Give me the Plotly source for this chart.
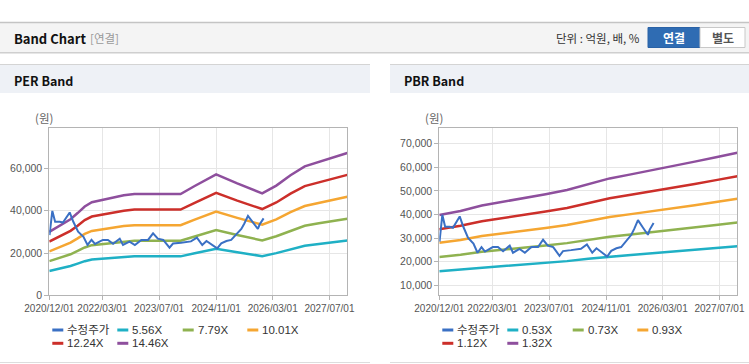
import plotly.graph_objects as go

W, H = 749, 364

# ---------------- data ----------------
x_tickvals = ["2020-12-01", "2022-03-01", "2023-07-01", "2024-11-01", "2026-03-01", "2027-07-01"]
x_ticktext = ["2020/12/01", "2022/03/01", "2023/07/01", "2024/11/01", "2026/03/01", "2027/07/01"]

price_dates = ["2020-12-03", "2020-12-27", "2021-01-20", "2021-03-01", "2021-03-28", "2021-05-25",
               "2021-06-25", "2021-08-05", "2021-09-20", "2021-10-25", "2021-11-28", "2021-12-28",
               "2022-03-05", "2022-04-18", "2022-06-01", "2022-07-28", "2022-08-25", "2022-10-20",
               "2022-12-05", "2023-01-30", "2023-03-28", "2023-05-10", "2023-06-20", "2023-08-05",
               "2023-09-28", "2023-10-28", "2024-01-05", "2024-03-30", "2024-05-20", "2024-07-05",
               "2024-08-10", "2024-09-20", "2024-11-10", "2024-12-15", "2025-01-28", "2025-03-10",
               "2025-04-22", "2025-06-05", "2025-07-01", "2025-08-01", "2025-09-12", "2025-10-25",
               "2025-11-10", "2025-12-13"]
price_values = [28500, 39900, 34800, 34800, 34400, 39200,
                34800, 30100, 27700, 23800, 26200, 24300,
                26200, 26200, 24400, 26800, 23800, 25400,
                23800, 26200, 26200, 29300, 26800, 26200,
                22500, 24500, 24900, 25500, 27300, 23800,
                25700, 24100, 22200, 24600, 25700, 26200,
                28800, 31400, 34000, 37600, 34500, 31400,
                33600, 36400]

per_band_dates = ["2020-12-01", "2021-02-01", "2021-04-01", "2021-06-01", "2021-08-01", "2021-10-01",
                  "2021-12-01", "2022-03-01", "2022-06-01", "2022-09-01", "2022-12-01", "2023-06-01",
                  "2024-01-01", "2024-05-01", "2024-11-01", "2025-05-01", "2025-12-01", "2026-04-01",
                  "2026-08-01", "2026-12-01", "2027-04-01", "2027-08-01", "2027-12-01"]
per_556 = [11540, 12300, 12960, 13840, 14960, 16150, 16920, 17340, 17800, 18190, 18420, 18420,
           18420, 19880, 22000, 20340, 18530, 19950, 21840, 23460, 24300, 25150, 25880]
per_779 = [16160, 17240, 18160, 19400, 20960, 22630, 23710, 24300, 24940, 25480, 25810, 25810,
           25810, 27850, 30820, 28500, 25960, 27960, 30600, 32870, 34050, 35230, 36250]
per_1001 = [20770, 22150, 23330, 24920, 26930, 29080, 30460, 31220, 32050, 32740, 33160, 33160,
            33160, 35790, 39600, 36620, 33360, 35930, 39320, 42230, 43750, 45280, 46590]
per_1224 = [25400, 27090, 28530, 30480, 32930, 35560, 37250, 38180, 39190, 40040, 40550, 40550,
            40550, 43760, 48420, 44770, 40800, 43930, 48080, 51640, 53500, 55360, 56970]
per_1446 = [30000, 32000, 33700, 36000, 38900, 42000, 44000, 45100, 46300, 47300, 47900, 47900,
            47900, 51700, 57200, 52900, 48200, 51900, 56800, 61000, 63200, 65400, 67300]

pbr_band_dates = ["2020-12-01", "2021-06-01", "2021-12-01", "2022-06-01", "2022-12-01", "2023-06-01",
                  "2023-12-01", "2024-06-01", "2024-12-01", "2025-06-01", "2025-12-01", "2026-06-01",
                  "2026-12-01", "2027-06-01", "2027-12-01"]
pbr_053 = [15980, 16660, 17590, 18190, 18790, 19510, 20240, 21280, 22200, 22890, 23570, 24370,
           25050, 25820, 26580]
pbr_073 = [22010, 22950, 24220, 25050, 25880, 26880, 27870, 29310, 30580, 31520, 32460, 33570,
           34510, 35560, 36610]
pbr_093 = [28040, 29240, 30860, 31920, 32970, 34240, 35510, 37340, 38960, 40160, 41360, 42760,
           43960, 45300, 46640]
pbr_112 = [33770, 35210, 37160, 38440, 39700, 41240, 42760, 44970, 46920, 48360, 49810, 51500,
           52940, 54560, 56170]
pbr_132 = [39800, 41500, 43800, 45300, 46800, 48600, 50400, 53000, 55300, 57000, 58700, 60700,
           62400, 64300, 66200]

per_names = ["수정주가", "5.56X", "7.79X", "10.01X", "12.24X", "14.46X"]
pbr_names = ["수정주가", "0.53X", "0.73X", "0.93X", "1.12X", "1.32X"]

# ---------------- styles ----------------
COLORS = ["#3a70c4", "#1fb0c5", "#8fb250", "#f5a632", "#cc2f2a", "#8e4f9d"]
FONT = "Liberation Sans, Noto Sans CJK KR, sans-serif"
KFONT = "Noto Sans CJK KR, sans-serif"


def px(x):
    return x / W


def py(y):
    return 1 - y / H


fig = go.Figure()

per_bands = [per_556, per_779, per_1001, per_1224, per_1446]
pbr_bands = [pbr_053, pbr_073, pbr_093, pbr_112, pbr_132]

for i, vals in enumerate(per_bands):
    fig.add_trace(go.Scatter(x=per_band_dates, y=vals, mode="lines", name=per_names[i + 1],
                             line=dict(color=COLORS[i + 1], width=2.5), xaxis="x", yaxis="y",
                             showlegend=False))
fig.add_trace(go.Scatter(x=price_dates, y=price_values, mode="lines", name=per_names[0],
                         line=dict(color=COLORS[0], width=2), xaxis="x", yaxis="y", showlegend=False))

for i, vals in enumerate(pbr_bands):
    fig.add_trace(go.Scatter(x=pbr_band_dates, y=vals, mode="lines", name=pbr_names[i + 1],
                             line=dict(color=COLORS[i + 1], width=2.5), xaxis="x2", yaxis="y2",
                             showlegend=False))
fig.add_trace(go.Scatter(x=price_dates, y=price_values, mode="lines", name=pbr_names[0],
                         line=dict(color=COLORS[0], width=2), xaxis="x2", yaxis="y2", showlegend=False))

ydom = [py(295.3), py(128.3)]
xaxis_common = dict(type="date", range=["2020-12-01", "2027-12-01"], tickvals=x_tickvals,
                    ticktext=x_ticktext, showgrid=True, gridcolor="#e6e6e6", gridwidth=1,
                    showline=True, linecolor="#b4b4b4", linewidth=1, mirror=True,
                    ticks="outside", ticklen=4, tickcolor="#b4b4b4", tickangle=0,
                    automargin=False,
                    tickfont=dict(family=FONT, size=10, color="#555"), zeroline=False)
yaxis_common = dict(showgrid=True, gridcolor="#e6e6e6", gridwidth=1, showline=True,
                    linecolor="#b4b4b4", linewidth=1, mirror=True, ticks="outside", ticklen=4,
                    tickcolor="#b4b4b4", tickformat=",", zeroline=False, automargin=False,
                    tickfont=dict(family=FONT, size=10.5, color="#555"))

fig.update_layout(
    width=W, height=H, margin=dict(l=0, r=0, t=0, b=0, pad=0), autosize=False,
    paper_bgcolor="white", plot_bgcolor="white", showlegend=False,
    xaxis=dict(domain=[px(49.3), px(347.3)], anchor="y", **xaxis_common),
    yaxis=dict(domain=ydom, anchor="x", range=[0, 79000], tickvals=[0, 20000, 40000, 60000],
               **yaxis_common),
    xaxis2=dict(domain=[px(439.3), px(737.3)], anchor="y2", **xaxis_common),
    yaxis2=dict(domain=ydom, anchor="x2", range=[5760, 76530],
                tickvals=[10000, 20000, 30000, 40000, 50000, 60000, 70000], **yaxis_common),
)

shapes = []
ann = []


def rect(x0, y0, x1, y1, fill, line=None, lw=0):
    shapes.append(dict(type="rect", xref="paper", yref="paper", x0=px(x0), x1=px(x1),
                       y0=py(y1), y1=py(y0), fillcolor=fill,
                       line=dict(color=line or fill, width=lw), layer="below"))


def hline(x0, x1, y, color, w=1):
    shapes.append(dict(type="line", xref="paper", yref="paper", x0=px(x0), x1=px(x1),
                       y0=py(y), y1=py(y), line=dict(color=color, width=w)))


def text(x, y, s, size, color, anchor="left", family=KFONT, bold=False):
    ann.append(dict(xref="paper", yref="paper", x=px(x), y=py(y), text=(f"<b>{s}</b>" if bold else s),
                    showarrow=False, xanchor=anchor, yanchor="middle",
                    font=dict(family=family, size=size, color=color)))


# top header
rect(0, 22.5, W, 52, "#f4f4f4")
hline(0, W, 22.5, "#c4c4c4", 1.5)
hline(0, W, 52.5, "#cfcfcf", 1)
hline(0, W, 53.5, "#e6e6e6", 1)
text(12, 38.5, "Band Chart", 13, "#111", bold=True)
text(88, 38.5, "[연결]", 11.5, "#999")
text(642, 38.5, "단위 : 억원, 배, %", 11.5, "#333", anchor="right")
rect(648, 27.5, 700, 47.5, "#2f6cb3", "#2a62a6", 1)
rect(700, 27.5, 745, 47.5, "#ffffff", "#c8c8c8", 1)
text(674, 37.5, "연결", 12, "#ffffff", anchor="center", bold=True)
text(722.5, 37.5, "별도", 12, "#555", anchor="center", bold=True)

# panels
for x0, x1, title in [(0, 370, "PER Band"), (390, W, "PBR Band")]:
    rect(x0, 65, x1, 93, "#eef1f6")
    hline(x0, x1, 64.5, "#d4d4d4", 1)
    hline(x0, x1, 362.5, "#dddddd", 1)
    text(x0 + 12, 80, title, 12.5, "#111", bold=True)
    text(x0 + 44, 118, "(원)", 11.5, "#666", anchor="center")

# custom legends
leg_slots = [(52.3, 330), (117.3, 330), (182.7, 330), (247.3, 330), (52.3, 343.3), (117.3, 343.3)]
for off, names in [(0, per_names), (390, pbr_names)]:
    for i, name in enumerate(names):
        lx, ly = leg_slots[i]
        lx += off
        hline(lx, lx + 11, ly, COLORS[i], 3)
        text(lx + 13, ly, name, 11.5, "#333", family=FONT)

fig.update_layout(shapes=shapes, annotations=ann)
fig.write_html("out.html", config={"displayModeBar": False},
               post_script="document.body.style.margin='0';document.body.style.overflow='hidden';")
